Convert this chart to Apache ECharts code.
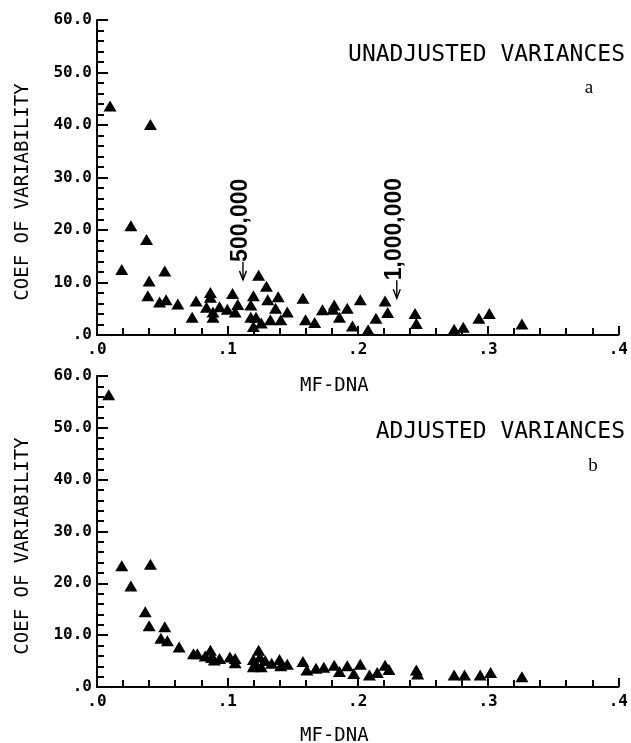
<!DOCTYPE html>
<html>
<head>
<meta charset="utf-8">
<script src="https://cdn.jsdelivr.net/npm/echarts@6/dist/echarts.min.js"></script>
<style>
html,body{margin:0;padding:0;background:#fff;}
#chart{width:631px;height:743px;}
</style>
</head>
<body>
<div id="chart"></div>
<script>
// ---- data ----
const xTickLabels = ['.0', '.1', '.2', '.3', '.4'];
const yTickLabels = ['.0', '10.0', '20.0', '30.0', '40.0', '50.0', '60.0'];

// Panel a: unadjusted variances
const xUnadj = [0.010, 0.041, 0.019, 0.026, 0.038, 0.040, 0.052, 0.039, 0.048, 0.053, 0.062, 0.073, 0.076,
  0.087, 0.087, 0.084, 0.089, 0.089, 0.094, 0.100, 0.104, 0.106, 0.108, 0.120, 0.118, 0.124, 0.130, 0.131,
  0.118, 0.122, 0.120, 0.126, 0.133, 0.139, 0.137, 0.141, 0.146, 0.158, 0.160, 0.167,
  0.173, 0.182, 0.181, 0.186, 0.192, 0.196, 0.202, 0.208, 0.214, 0.221, 0.223, 0.244, 0.245,
  0.274, 0.281, 0.293, 0.301, 0.326];
const yUnadj = [43.6, 40.1, 12.5, 20.8, 18.2, 10.3, 12.2, 7.5, 6.3, 6.7, 5.9, 3.4, 6.5,
  8.1, 7.2, 5.3, 4.4, 3.4, 5.4, 4.9, 7.9, 4.4, 5.8, 7.5, 5.7, 11.4, 9.3, 6.7,
  3.4, 3.4, 1.6, 2.3, 2.9, 7.3, 5.1, 2.9, 4.4, 7.0, 2.9, 2.4,
  4.8, 5.7, 4.9, 3.4, 5.1, 1.7, 6.7, 1.0, 3.2, 6.5, 4.3, 4.1, 2.2,
  1.1, 1.5, 3.2, 4.1, 2.1];

// Panel b: adjusted variances
const xAdj = [0.009, 0.019, 0.041, 0.026, 0.037, 0.040, 0.052, 0.049, 0.054, 0.063, 0.074, 0.077, 0.083,
  0.087, 0.088, 0.090, 0.094, 0.102, 0.106, 0.106, 0.120, 0.121, 0.124, 0.125, 0.129, 0.126, 0.120,
  0.134, 0.140, 0.141, 0.146, 0.158, 0.161, 0.168, 0.174, 0.182, 0.186, 0.192, 0.197, 0.202,
  0.209, 0.215, 0.221, 0.224, 0.245, 0.246, 0.274, 0.282, 0.294, 0.302, 0.326];
const yAdj = [56.4, 23.4, 23.7, 19.5, 14.5, 11.8, 11.6, 9.4, 8.9, 7.7, 6.4, 6.4, 6.0,
  7.1, 5.7, 5.2, 5.5, 5.8, 5.5, 4.7, 5.3, 4.4, 7.1, 5.8, 5.1, 3.9, 3.9,
  4.6, 5.3, 4.1, 4.4, 4.9, 3.3, 3.6, 3.8, 4.2, 3.0, 4.1, 2.6, 4.4,
  2.3, 2.8, 4.2, 3.4, 3.3, 2.5, 2.3, 2.3, 2.3, 2.8, 2.0];

// Annotations (data coordinates on panel a)
const annLabels = ['500,000', '1,000,000'];
const annX = [0.112, 0.230];
const annYTip = [10.5, 7.0];

function pairs(xs, ys) { return xs.map((x, i) => [x, ys[i]]); }

const tickFont = 'DejaVu Sans Mono';
const chart = echarts.init(document.getElementById('chart'), null, {renderer: 'canvas'});

function xAxisCfg(gi) {
  return {
    gridIndex: gi, type: 'value', min: 0, max: 0.4, interval: 0.1,
    axisLine: {show: true, onZero: false, lineStyle: {color: '#000', width: 2}},
    axisTick: {show: true, inside: true, length: 9, lineStyle: {color: '#000', width: 2}},
    minorTick: {show: true, splitNumber: 5, length: 7, lineStyle: {color: '#000', width: 2}},
    splitLine: {show: false},
    axisLabel: {
      color: '#000', fontFamily: tickFont, fontWeight: 'bold', fontSize: 16, margin: 7,
      formatter: v => xTickLabels[Math.round(v * 10)] || ''
    }
  };
}
function yAxisCfg(gi) {
  return {
    gridIndex: gi, type: 'value', min: 0, max: 60, interval: 10,
    axisLine: {show: true, onZero: false, lineStyle: {color: '#000', width: 2}},
    axisTick: {show: true, inside: true, length: 11, lineStyle: {color: '#000', width: 2}},
    minorTick: {show: true, splitNumber: 5, length: 7, lineStyle: {color: '#000', width: 2}},
    splitLine: {show: false},
    axisLabel: {
      color: '#000', fontFamily: tickFont, fontWeight: 'bold', fontSize: 16, margin: 5,
      formatter: v => yTickLabels[Math.round(v / 10)] || ''
    }
  };
}

const triStyle = {color: '#000', opacity: 1};

chart.setOption({
  animation: false,
  backgroundColor: '#fff',
  grid: [
    {left: 97, top: 20, width: 528, height: 315},
    {left: 97, top: 376, width: 528, height: 311}
  ],
  xAxis: [xAxisCfg(0), xAxisCfg(1)],
  yAxis: [yAxisCfg(0), yAxisCfg(1)],
  series: [
    {type: 'scatter', xAxisIndex: 0, yAxisIndex: 0, symbol: 'triangle', symbolSize: [13, 11],
     itemStyle: triStyle, data: pairs(xUnadj, yUnadj)},
    {type: 'scatter', xAxisIndex: 1, yAxisIndex: 1, symbol: 'triangle', symbolSize: [13, 11],
     itemStyle: triStyle, data: pairs(xAdj, yAdj)}
  ]
});

// ---- text and annotation graphics ----
const g = [];
const nameFont = {fontFamily: tickFont, fontSize: 19, fill: '#000'};
const titleFont = {fontFamily: tickFont, fontSize: 23, fill: '#000'};

g.push({type: 'text', left: 300, top: 377, style: Object.assign({text: 'MF-DNA'}, nameFont)});
g.push({type: 'text', left: 300, top: 727, style: Object.assign({text: 'MF-DNA'}, nameFont)});
g.push({type: 'text', x: 23, y: 192, rotation: Math.PI / 2,
  style: Object.assign({text: 'COEF OF VARIABILITY', align: 'center', verticalAlign: 'middle'}, nameFont)});
g.push({type: 'text', x: 23, y: 546, rotation: Math.PI / 2,
  style: Object.assign({text: 'COEF OF VARIABILITY', align: 'center', verticalAlign: 'middle'}, nameFont)});
g.push({type: 'text', x: 625, y: 55,
  style: Object.assign({text: 'UNADJUSTED VARIANCES', align: 'right', verticalAlign: 'middle'}, titleFont)});
g.push({type: 'text', x: 625, y: 432,
  style: Object.assign({text: 'ADJUSTED VARIANCES', align: 'right', verticalAlign: 'middle'}, titleFont)});
g.push({type: 'text', x: 589, y: 88,
  style: {text: 'a', fontFamily: 'Liberation Serif', fontSize: 19, fill: '#000', align: 'center', verticalAlign: 'middle'}});
g.push({type: 'text', x: 593, y: 466,
  style: {text: 'b', fontFamily: 'Liberation Serif', fontSize: 19, fill: '#000', align: 'center', verticalAlign: 'middle'}});

annLabels.forEach((lab, i) => {
  const tip = chart.convertToPixel({gridIndex: 0}, [annX[i], annYTip[i]]);
  const tx = tip[0], ty = tip[1];
  g.push({type: 'line', shape: {x1: tx, y1: ty - 18, x2: tx, y2: ty}, style: {stroke: '#000', lineWidth: 1.4}});
  g.push({type: 'polyline', shape: {points: [[tx - 3.5, ty - 9], [tx, ty], [tx + 3.5, ty - 9]]},
    style: {stroke: '#000', lineWidth: 1.4, fill: null}});
  g.push({type: 'text', x: tx - 2, y: ty - 18, rotation: Math.PI / 2,
    style: {text: lab, fontFamily: 'Liberation Sans', fontWeight: 'bold', fontSize: 23, fill: '#000', align: 'left', verticalAlign: 'middle'}});
});

chart.setOption({graphic: {elements: g}});
</script>
</body>
</html>
